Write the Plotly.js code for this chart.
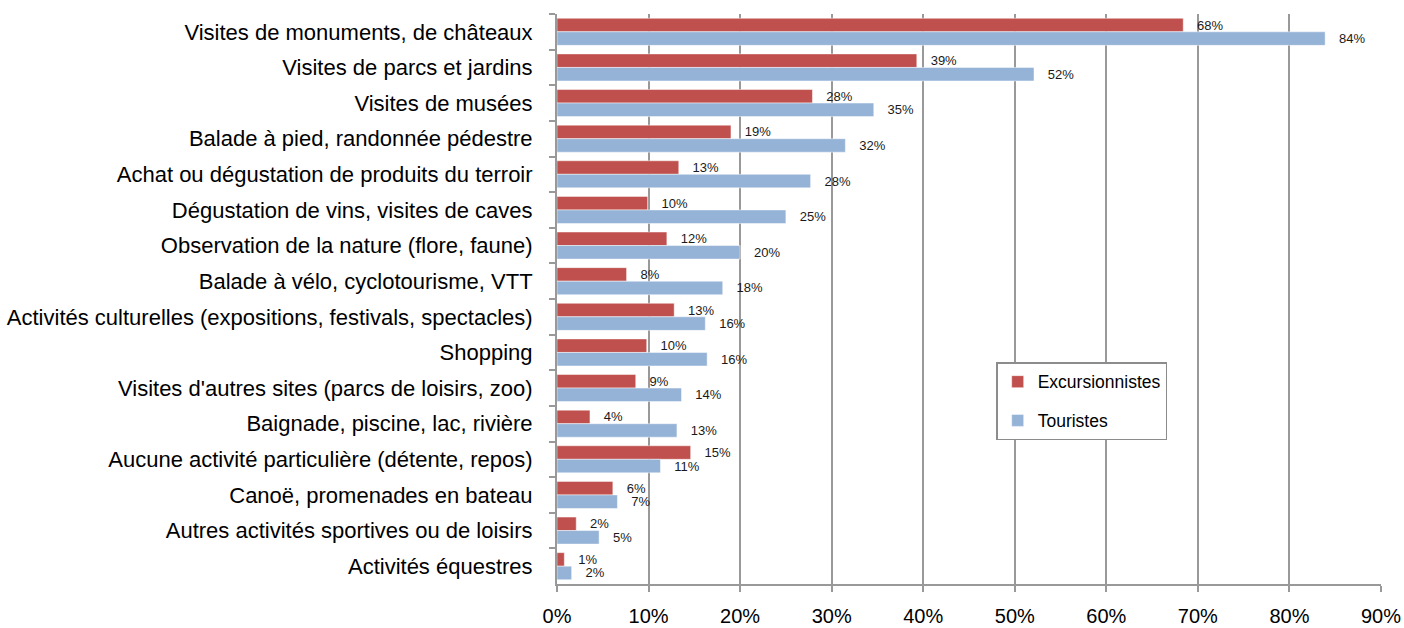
<!DOCTYPE html>
<html>
<head>
<meta charset="utf-8">
<script src="https://cdn.plot.ly/plotly-3.0.1.min.js"></script>
<style>html,body{margin:0;padding:0;background:#fff;}#chart{width:1404px;height:628px;}</style>
</head>
<body>
<div id="chart"></div>
<script>
const categories = [
  "Visites de monuments, de châteaux",
  "Visites de parcs et jardins",
  "Visites de musées",
  "Balade à pied, randonnée pédestre",
  "Achat ou dégustation de produits du terroir",
  "Dégustation de vins, visites de caves",
  "Observation de la nature (flore, faune)",
  "Balade à vélo, cyclotourisme, VTT",
  "Activités culturelles (expositions, festivals, spectacles)",
  "Shopping",
  "Visites d'autres sites (parcs de loisirs, zoo)",
  "Baignade, piscine, lac, rivière",
  "Aucune activité particulière (détente, repos)",
  "Canoë, promenades en bateau",
  "Autres activités sportives ou de loisirs",
  "Activités équestres"
];
const excursionnistes = [68.4, 39.3, 27.9, 19.0, 13.3, 9.9, 12.0, 7.6, 12.8, 9.8, 8.6, 3.6, 14.6, 6.1, 2.1, 0.8];
const touristes = [83.9, 52.1, 34.6, 31.5, 27.7, 25.0, 20.0, 18.1, 16.2, 16.4, 13.6, 13.1, 11.3, 6.6, 4.6, 1.6];
const xTicks = [0, 10, 20, 30, 40, 50, 60, 70, 80, 90];

const font = "Liberation Sans, Arial, sans-serif";
const common = {
  type: "bar",
  orientation: "h",
  y: categories,
  textposition: "outside",
  texttemplate: "\u00a0\u00a0\u00a0%{x:.0f}%",
  textfont: {family: font, size: 13, color: "#1a1a1a"},
  constraintext: "none",
  cliponaxis: false,
  hoverinfo: "x+y"
};
const traces = [
  Object.assign({}, common, {
    name: "Excursionnistes", x: excursionnistes, legendgroup: "a",
    marker: {color: "#C0504D", line: {color: "rgba(255,255,255,0.6)", width: 0.8}}
  }),
  Object.assign({}, common, {
    name: "Touristes", x: touristes, legendgroup: "b",
    marker: {color: "#95B3D7", line: {color: "rgba(255,255,255,0.6)", width: 0.8}}
  })
];
const layout = {
  width: 1404, height: 628,
  margin: {l: 557, r: 23, t: 14, b: 44, pad: 0},
  paper_bgcolor: "#fff", plot_bgcolor: "#fff",
  font: {family: font, color: "#000"},
  barmode: "group", bargap: 0.24, bargroupgap: 0,
  showlegend: true,
  legend: {
    x: 0.533, y: 0.389, xanchor: "left", yanchor: "top",
    bgcolor: "#fff", bordercolor: "#8c8c8c", borderwidth: 1.5,
    font: {family: font, size: 17.5, color: "#000"},
    traceorder: "grouped", tracegroupgap: 13
  },
  xaxis: {
    range: [0, 90], tickvals: xTicks, ticktext: xTicks.map(v => v + "%"),
    showgrid: true, gridcolor: "#999", gridwidth: 2,
    showline: true, linecolor: "#999", linewidth: 2,
    ticks: "outside", ticklen: 6, tickcolor: "#999", tickwidth: 2,
    ticklabelstandoff: 7,
    tickfont: {family: font, size: 20, color: "#000"},
    zeroline: false, fixedrange: true
  },
  yaxis: {
    type: "category", autorange: "reversed", categoryorder: "array", categoryarray: categories,
    tickson: "boundaries", ticks: "outside", ticklen: 6, tickcolor: "#999", tickwidth: 2,
    showline: true, linecolor: "#999", linewidth: 2,
    showgrid: false, ticklabelstandoff: 18,
    tickfont: {family: font, size: 22, color: "#000"},
    fixedrange: true
  }
};
Plotly.newPlot("chart", traces, layout, {displayModeBar: false, staticPlot: true});
</script>
</body>
</html>
